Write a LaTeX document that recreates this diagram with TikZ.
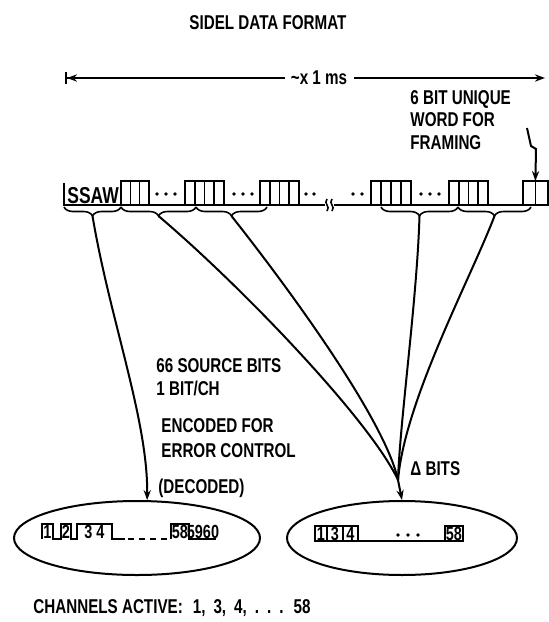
\documentclass[tikz,border=0pt]{standalone}
\usepackage{fontspec}
\newfontfamily\sidelfont{Liberation Sans}[FakeStretch=0.76]
\usetikzlibrary{shapes.geometric, decorations.pathreplacing, arrows.meta}

\begin{document}
\begin{tikzpicture}[x=0.5pt, y=-0.5pt,
		lettering/.style={font=\sidelfont\bfseries\fontsize{10}{11.25}\selectfont,
			inner sep=0pt, align=left},
		digits/.style={font=\sidelfont\bfseries\fontsize{9.5}{10}\selectfont, inner sep=0pt},
		cell/.style={line width=0.8pt},
		link/.style={line width=1pt},
		wordbrace/.style={decorate, decoration={brace, mirror, amplitude=4.5pt}, line width=0.8pt},
		field/.style={ellipse, draw, line width=1pt, minimum height=37pt, inner sep=0pt},
		>={Stealth[length=5pt, width=3.6pt]}
		]
		\useasboundingbox (0,0) rectangle (548,622);
		
		\node[lettering, anchor=base] (title) at (268,29) {SIDEL DATA FORMAT};
		
		% frame length
		\coordinate (spanL) at (65,78);
		\coordinate (spanR) at (545,78);
		\node[lettering, inner xsep=3pt] (spanlabel) at (319,78) {\textasciitilde x 1 ms};
		\draw[link, {Bar[width=6pt]Stealth[length=5pt, width=3.6pt]}-] (spanL) -- (spanlabel.west);
		\draw[link, ->] (spanlabel.east) -- (spanR);
		
		\node[lettering, anchor=north west] (framinglabel) at (410,90)
		{6 BIT UNIQUE\\WORD FOR\\FRAMING};
		
		% frame row
		\node[lettering, anchor=base west, font=\sidelfont\bfseries\fontsize{11.5}{12}\selectfont]
		(ssaw) at (67,203) {SSAW};
		\draw[cell] (64,183) -- (64,205) -- (325,205);
		\draw[cell] (334,205) -- (548,205);
		\foreach \gx/\gn/\gw in {121/3/9.33, 185/4/9.75, 260/4/9.75, 371/4/10, 449/4/9.75, 523/2/12.4}
		\foreach \k in {1,...,\gn}
		\draw[cell] ({\gx+(\k-1)*\gw},205) rectangle ++(\gw,-24);
		\foreach \dx in {157,166,175,234,243,252,306,314,353,362,421,430,439}
		\fill (\dx,194) circle (0.9pt);
		\draw[cell] (327,199) .. controls (323,204) and (331,206) .. (327,211);
		\draw[cell] (332,199) .. controls (328,204) and (336,206) .. (332,211);
		\coordinate (uwtop) at (535.4,181);
		
		\coordinate (kinkstart) at (527,128);
		\draw[link, ->] (kinkstart) -- (531,146) -- (536,149) -- (uwtop);
		
		% word braces
		\draw[wordbrace] (64,207) -- (121,207);
		\draw[wordbrace] (121,207) -- (196,207);
		\draw[wordbrace] (196,207) -- (267,207);
		\draw[wordbrace] (381,207) -- (458,207);
		\draw[wordbrace] (458,207) -- (531,207);
		\coordinate (tipssaw) at (92.5,216);
		\coordinate (tipone) at (158.5,216);
		\coordinate (tiptwo) at (231.5,216);
		\coordinate (tipfour) at (419.5,216);
		\coordinate (tipfive) at (494.5,216);
		
		% received fields
		\node[field, minimum width=123pt] (decodedfield) at (137,538) {};
		\node[field, minimum width=115pt] (deltafield) at (402,538) {};
		\coordinate (merge) at (398,480);
		
		\draw[link, ->] (tipssaw) .. controls (110,320) and (148,420) .. (decodedfield.75);
		\draw[link] (tipone) .. controls (240,285) and (370,420) .. (merge);
		\draw[link] (tiptwo) .. controls (290,290) and (385,420) .. (merge);
		\draw[link] (tipfour) .. controls (417,300) and (400,420) .. (merge);
		\draw[link] (tipfive) .. controls (470,280) and (405,400) .. (merge);
		\draw[link, ->] (merge) -- (deltafield.north);
		
		\node[lettering, anchor=north west, font=\sidelfont\bfseries\fontsize{10}{11.5}\selectfont]
		(sourcebits) at (156,358) {66 SOURCE BITS\\1 BIT/CH};
		\node[lettering, anchor=north west, font=\sidelfont\bfseries\fontsize{10}{12.5}\selectfont]
		(encoding) at (161,418) {ENCODED FOR\\ERROR CONTROL};
		\node[lettering, anchor=north west] (decodednote) at (158,479) {(DECODED)};
		\node[lettering, anchor=base west] (deltabits) at (410,475) {Δ BITS};
		
		% decoded channels
		\draw[cell] (42,539) -- (42,524) -- (53,524) -- (53,539) -- (61,539) -- (61,524)
		-- (71,524) -- (71,539) -- (77,539) -- (77,524) -- (112,524) -- (112,539) -- (125,539);
		\draw[cell, dash pattern=on 3pt off 2.5pt] (128,539) -- (168,539);
		\draw[cell] (171,539) -- (171,524) -- (189,524) -- (189,539) -- (216,539);
		\node[digits] (chA) at (47.5,531.5) {1};
		\node[digits] (chB) at (66,531.5) {2};
		\node[digits] (chC) at (94.5,531.5) {3 4};
		\node[digits] (chD) at (180,531.5) {58};
		\node[digits] (chE) at (203,531.5) {5960};
		
		% delta channels
		\draw[cell] (315,526) rectangle (327,541);
		\draw[cell] (327,526) rectangle (343,541);
		\draw[cell] (343,526) rectangle (358,541);
		\draw[cell] (358,541) -- (445,541);
		\draw[cell] (445,526) rectangle (463,541);
		\node[digits] (dA) at (321,533.5) {1};
		\node[digits] (dB) at (335,533.5) {3};
		\node[digits] (dC) at (350.5,533.5) {4};
		\node[digits] (dD) at (454,533.5) {58};
		\foreach \dx in {398,408,418}
		\fill (\dx,535) circle (0.9pt);
		
		\node[lettering, anchor=base west] (activelist) at (33,613)
		{CHANNELS ACTIVE:\hspace{5pt}1,\hspace{4pt}3,\hspace{4pt}4,\hspace{4pt}.\hspace{4pt}.\hspace{4pt}.\hspace{5pt}58};
		
	\end{tikzpicture}
\end{document}
